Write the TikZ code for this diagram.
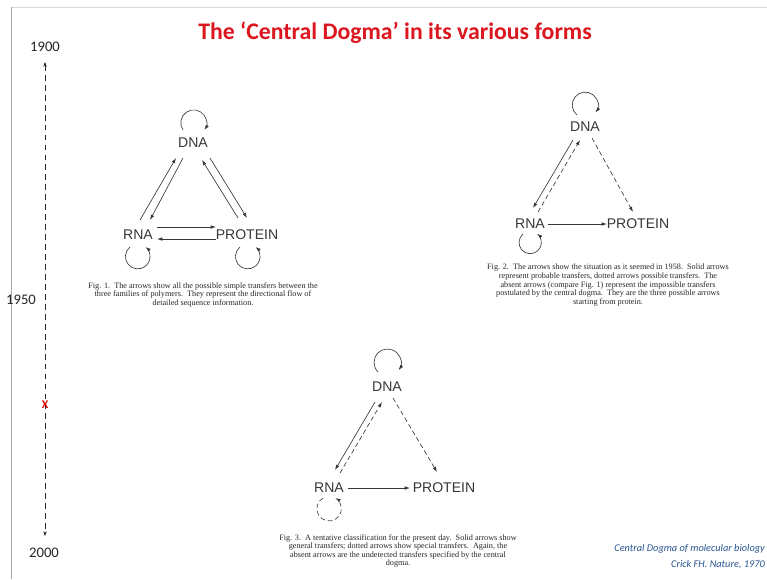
\documentclass[tikz,border=0pt]{standalone}
\usepackage{fontspec}
\setmainfont{Carlito}
\newfontfamily\lblfont{Liberation Sans}
\newfontfamily\capfont{Liberation Serif}
\usetikzlibrary{arrows.meta, calc}
\definecolor{titlered}{RGB}{220, 22, 30}
\definecolor{refblue}{RGB}{40, 85, 145}
\definecolor{inkgray}{RGB}{55, 55, 55}

\begin{document}
\begin{tikzpicture}[x=0.03cm, y=-0.03cm,
      mol/.style={font=\lblfont\fontsize{12}{12}\selectfont, text=inkgray, inner sep=1pt},
      arr/.style={draw=inkgray, line width=0.55pt, -{Latex[length=4.5pt,width=3pt]}},
      darr/.style={arr, dash pattern=on 4pt off 2.5pt},
      figcap/.style={font=\capfont\fontsize{7}{7.3}\selectfont, text=black!85, align=center, anchor=north, inner sep=0pt},
      yr/.style={font=\fontsize{12.5}{13}\selectfont, text=black!85},
      src/.style={anchor=east, font=\itshape\fontsize{8.8}{10}\selectfont, text=refblue, inner sep=0pt}]
      \useasboundingbox (0,0) rectangle (767,579);
      % frame
      \draw[black!15, line width=0.6pt] (11,7) -- (767,7);
      \draw[black!35, line width=0.6pt] (11,7) -- (11,579);
      % title
      \node[font=\bfseries\fontsize{20.3}{22}\selectfont, text=titlered] (title) at (395,33) {The ‘Central Dogma’ in its various forms};
      % time line
      \node[yr] (y1900) at (45,47) {1900};
      \node[yr] (y1950) at (21,300) {1950};
      \node[yr] (y2000) at (44,553) {2000};
      \coordinate (t0) at (45,62); \coordinate (t1) at (45,536);
      \draw[black!85, line width=0.6pt, dash pattern=on 5pt off 3.5pt,
            {Stealth[length=4pt,width=3pt]}-{Stealth[length=4pt,width=3pt]}] (t0) -- (t1);
      \node[font=\bfseries\fontsize{10}{10}\selectfont, text=red!85!black, inner sep=0pt] (now) at (45,405) {X};
      % Fig. 1
      \node[mol] (d1) at (193,143) {DNA};
      \node[mol] (r1) at (138,235) {RNA};
      \node[mol] (p1) at (247,235) {PROTEIN};
      \draw[arr] ($(r1)+(2,-15)$) -- ($(d1)+(-17,15)$);
      \draw[arr] ($(d1)+(-10,15)$) -- ($(r1)+(12,-15)$);
      \draw[arr] ($(p1)+(-9,-17)$) -- ($(d1)+(9,17)$);
      \draw[arr] ($(d1)+(17,15)$) -- ($(p1)+(0,-17)$);
      \draw[arr] ($(r1)+(19,-8)$) -- ($(p1)+(-31,-8)$);
      \draw[arr] ($(p1)+(-31,4)$) -- ($(r1)+(19,4)$);
      \draw[arr] ($(d1)+(-10,-13)$) arc[start angle=214, end angle=-34, radius=11pt];
      \draw[arr] ($(r1)+(-8,12)$) arc[start angle=129, end angle=411, radius=10.5pt];
      \draw[arr] ($(p1)+(-7,12)$) arc[start angle=129, end angle=411, radius=10.5pt];
      \node[figcap] (c1) at (203,282) {Fig. 1.\ \ The arrows show all the possible simple transfers between the\\
        three families of polymers.\ \ They represent the directional flow of\\
        detailed sequence information.};
      % Fig. 2
      \node[mol] (d2) at (585,127) {DNA};
      \node[mol] (r2) at (530,224) {RNA};
      \node[mol] (p2) at (638,224) {PROTEIN};
      \draw[arr] ($(d2)+(-12,13)$) -- ($(r2)+(3,-16)$);
      \draw[darr] ($(r2)+(8,-12)$) -- ($(d2)+(-5,13)$);
      \draw[darr] ($(d2)+(7,11)$) -- ($(p2)+(-5,-12)$);
      \draw[arr] ($(r2)+(18,0)$) -- ($(p2)+(-31,0)$);
      \draw[arr] ($(d2)+(-8,-12)$) arc[start angle=231, end angle=-36, radius=11pt];
      \draw[arr] ($(r2)+(-7,10)$) arc[start angle=130, end angle=412, radius=9.5pt];
      \node[figcap] (c2) at (608,264) {Fig. 2.\ \ The arrows show the situation as it seemed in 1958.\ \ Solid arrows\\
        represent probable transfers, dotted arrows possible transfers.\ \ The\\
        absent arrows (compare Fig. 1) represent the impossible transfers\\
        postulated by the central dogma.\ \ They are the three possible arrows\\
        starting from protein.};
      % Fig. 3
      \node[mol] (d3) at (387,387) {DNA};
      \node[mol] (r3) at (329,488) {RNA};
      \node[mol] (p3) at (444,488) {PROTEIN};
      \draw[arr] ($(d3)+(-12,15)$) -- ($(r3)+(6,-18)$);
      \draw[darr] ($(r3)+(11,-15)$) -- ($(d3)+(-5,15)$);
      \draw[darr] ($(d3)+(6,11)$) -- ($(p3)+(-7,-16)$);
      \draw[arr] ($(r3)+(19,0)$) -- ($(p3)+(-34,0)$);
      \draw[arr] ($(d3)+(-9,-15)$) arc[start angle=225, end angle=-35, radius=11.5pt];
      \draw[darr] ($(r3)+(-6,10)$) arc[start angle=120, end angle=420, radius=10.5pt];
      \node[figcap] (c3) at (398,534) {Fig. 3.\ \ A tentative classification for the present day.\ \ Solid arrows show\\
        general transfers; dotted arrows show special transfers.\ \ Again, the\\
        absent arrows are the undetected transfers specified by the central\\
        dogma.};
      % source
      \node[src] (src1) at (765,549) {Central Dogma of molecular biology};
      \node[src] (src2) at (765,565) {Crick FH. Nature, 1970};
    \end{tikzpicture}
\end{document}
